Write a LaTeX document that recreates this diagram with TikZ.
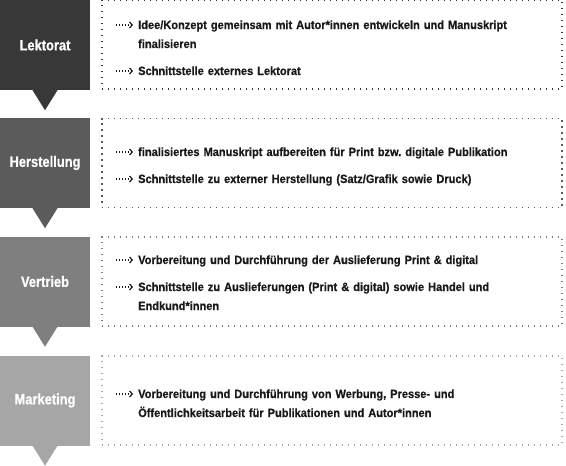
\documentclass[tikz,border=0pt]{standalone}
\usepackage{fontspec}
\setmainfont[FakeStretch=0.86, BoldFeatures={FakeBold=0.6}]{Liberation Sans}
\newfontfamily\bodyfont[FakeStretch=0.92, BoldFeatures={FakeBold=0.6}]{Liberation Sans}
\usetikzlibrary{arrows.meta}
\definecolor{cA}{HTML}{383838}
\definecolor{cB}{HTML}{5B5B5B}
\definecolor{cC}{HTML}{7F7F7F}
\definecolor{cD}{HTML}{A6A6A6}
\tikzset{
  stagebox/.style={minimum width=90pt, minimum height=90pt, inner sep=0pt,
    text=white, font=\fontsize{15}{18}\selectfont\bfseries},
  infobox/.style={minimum width=460pt, minimum height=89pt, inner sep=0pt,
    line width=1.3pt, dash pattern=on 1.3pt off 4.7pt},
  bulletitem/.style={anchor=base west, inner sep=0pt, text width=425pt, align=left,
    text=black!90, font=\bodyfont\fontsize{12}{19}\selectfont\bfseries\frenchspacing},
  arrowmark/.style={line width=1.2pt, dash pattern=on 1.3pt off 1.6pt, black!90,
    -{Straight Barb[length=2.6pt,width=6pt,line width=1.2pt]}}
}
\begin{document}
\begin{tikzpicture}[x=1pt,y=-1pt]
\useasboundingbox (0,0) rectangle (566,466);
% stages
\node[stagebox, fill=cA] (lek) at (45,45) {Lektorat};
\node[stagebox, fill=cB] (her) at (45,163) {Herstellung};
\node[stagebox, fill=cC] (ver) at (45,281.5) {Vertrieb};
\node[stagebox, fill=cD] (mar) at (45,400.5) {Marketing};
\foreach \n/\c in {lek/cA,her/cB,ver/cC,mar/cD}{
  \fill[\c] ([xshift=-12.5pt]\n.south) -- ([yshift=-20pt]\n.south) -- ([xshift=12.5pt]\n.south) -- cycle;
}
% info boxes
\node[infobox, draw=cA] (ilek) at (332,44.5) {};
\node[infobox, draw=cB] (iher) at (332,163) {};
\node[infobox, draw=cC] (iver) at (332,281.5) {};
\node[infobox, draw=cD] (imar) at (332,400.5) {};
% bullets
\node[bulletitem] (b1) at (138,29) {Idee/Konzept gemeinsam mit Autor*innen entwickeln und Manuskript\\finalisieren};
\node[bulletitem] (b2) at (138,75) {Schnittstelle externes Lektorat};
\node[bulletitem] (b3) at (138,156) {finalisiertes Manuskript aufbereiten für Print bzw. digitale Publikation};
\node[bulletitem] (b4) at (138,183) {Schnittstelle zu externer Herstellung (Satz/Grafik sowie Druck)};
\node[bulletitem] (b5) at (138,264) {Vorbereitung und Durchführung der Auslieferung Print \& digital};
\node[bulletitem] (b6) at (138,291) {Schnittstelle zu Auslieferungen (Print \& digital) sowie Handel und\\Endkund*innen};
\node[bulletitem] (b7) at (138,398) {Vorbereitung und Durchführung von Werbung, Presse- und\\Öffentlichkeitsarbeit für Publikationen und Autor*innen};
\foreach \b in {b1,b2,b3,b4,b5,b6,b7}{
  \coordinate (\b s) at ([xshift=-22pt,yshift=4pt]\b.base west);
  \coordinate (\b e) at ([xshift=-5pt,yshift=4pt]\b.base west);
  \draw[arrowmark] (\b s) -- (\b e);
}
\end{tikzpicture}
\end{document}
